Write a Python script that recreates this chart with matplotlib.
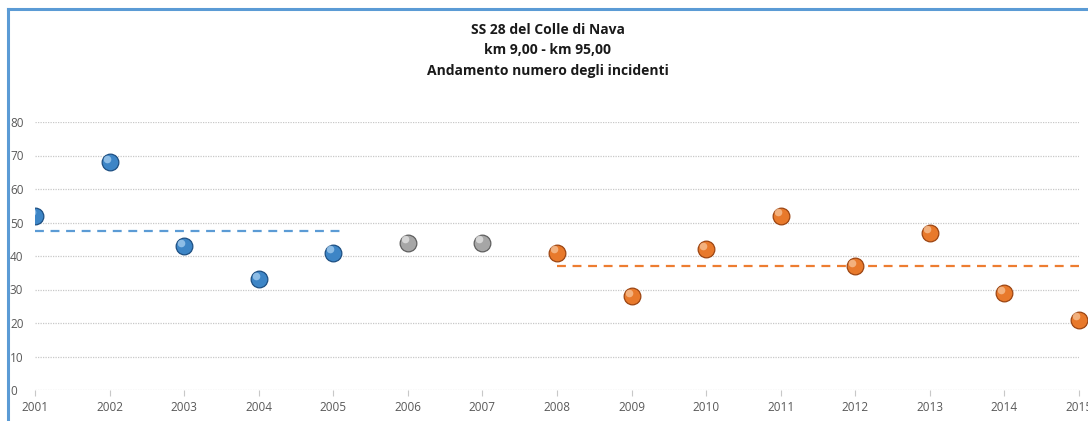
import numpy as np
import matplotlib
matplotlib.use("Agg")
import matplotlib.pyplot as plt
from matplotlib.patches import Rectangle
from matplotlib.lines import Line2D

years = [2001, 2002, 2003, 2004, 2005, 2006, 2007, 2008, 2009, 2010, 2011, 2012, 2013, 2014, 2015]
incidents = [52, 68, 43, 33, 41, 44, 44, 41, 28, 42, 52, 37, 47, 29, 21]
groups = ["blue"] * 5 + ["grey"] * 2 + ["orange"] * 8
title_lines = ["SS 28 del Colle di Nava", "km 9,00 - km 95,00", "Andamento numero degli incidenti"]
blue_line_x = [2001, 2005.12]
orange_line_x = [2008, 2015]
yticks = [0, 10, 20, 30, 40, 50, 60, 70, 80]

colors = {
    "blue": ("#3d85c6", "#1d4f82", "#a9d0f2"),
    "grey": ("#a6a6a6", "#5f5f5f", "#e6e6e6"),
    "orange": ("#e8792b", "#9c4512", "#f8c49a"),
}

plt.rcParams['font.family'] = ['Open Sans', 'DejaVu Sans']
fig = plt.figure(figsize=(10.88, 4.21), dpi=100)
ax = fig.add_axes([35 / 1088, 1 - 390 / 421, (1079 - 35) / 1088, (390 - 122) / 421])
ax.set_xlim(2001, 2015)
ax.set_ylim(0, 80)

for s in ax.spines.values():
    s.set_visible(False)
for y in yticks:
    ax.axhline(y, color="#c8c8c8", lw=0.9, ls=(0, (1, 1)), zorder=0)

ax.set_yticks(yticks)
ax.set_xticks(years)
ax.tick_params(axis="y", length=0, pad=18, labelsize=8.5, labelcolor="#595959")
ax.tick_params(axis="x", length=4, width=0.8, color="#c8c8c8", direction="out", pad=4,
               labelsize=8.5, labelcolor="#595959")
for lab in ax.get_yticklabels():
    lab.set_horizontalalignment("left")

clip = Rectangle((0, -0.1), 1.1, 1.2, transform=ax.transAxes)

vals = np.array(incidents)
g = np.array(groups)
blue_mean = vals[g == "blue"].mean()
orange_mean = vals[g == "orange"].mean()
ax.plot(blue_line_x, [blue_mean] * 2, color="#5b9bd5", lw=1.6, ls=(0, (4, 3)), zorder=2, clip_on=False)
ax.plot(orange_line_x, [orange_mean] * 2, color="#ed7d31", lw=1.6, ls=(0, (4, 3)), zorder=2, clip_on=False)

for x, y, grp in zip(years, incidents, groups):
    base, edge, hi = colors[grp]
    m1, = ax.plot(x, y, "o", ms=12, mfc=base, mec=edge, mew=0.9, zorder=3)
    m2, = ax.plot(x - 0.04, y + 1.0, "o", ms=5.5, mfc=hi, mec="none", alpha=0.75, zorder=4)
    for m in (m1, m2):
        m.set_clip_path(clip)

for i, t in enumerate(title_lines):
    fig.text(548 / 1088, 1 - (30 + 20.5 * i) / 421, t, ha="center", va="center",
             fontsize=10, fontweight="bold", color="#1a1a1a")

fig.add_artist(Line2D([8 / 1088, 8 / 1088], [0, 1 - 9 / 421], transform=fig.transFigure,
                      color="#5b9bd5", lw=2.2))
fig.add_artist(Line2D([8 / 1088, 1], [1 - 9 / 421, 1 - 9 / 421], transform=fig.transFigure,
                      color="#5b9bd5", lw=2.2))

fig.savefig("out.png", dpi=100)
